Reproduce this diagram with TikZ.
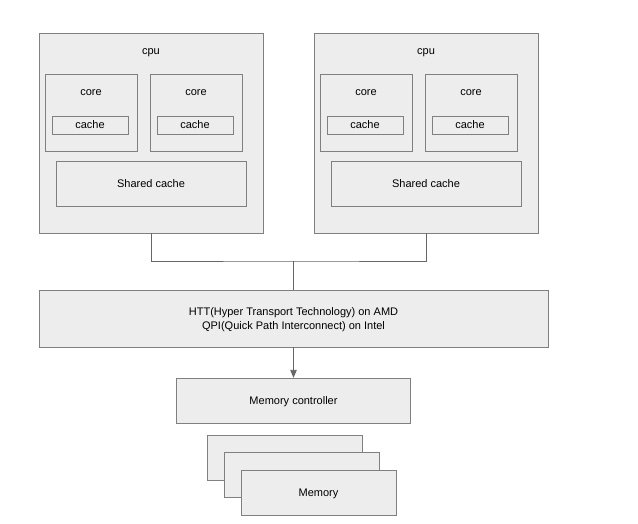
\documentclass[tikz,border=0pt]{standalone}
\usepackage{fontspec}
\setmainfont{Liberation Sans}
\usetikzlibrary{arrows}

\begin{document}
\begin{tikzpicture}
  [x=1pt,y=-1pt,font=\fontsize{11}{14}\selectfont,
   every node/.style={draw=black!50,fill=black!7,rectangle,inner sep=0pt,text depth=0pt}]

  \tikzstyle{plain} = [draw=none,fill=none]
  \tikzstyle{cpubox} = [minimum width=224pt,minimum height=200pt]
  \tikzstyle{corebox} = [minimum width=92pt,minimum height=77pt]
  \tikzstyle{cachebox} = [minimum width=76pt,minimum height=18pt]
  \tikzstyle{sharedbox} = [minimum width=190pt,minimum height=45pt]
  \tikzstyle{membox} = [minimum width=155pt,minimum height=45pt]

  \useasboundingbox (0,0) rectangle (638,523);

  % first cpu
  \node[cpubox] (cpu1) at (151,133) {};
  \node[plain] (cpu1 label) at (151,51.5) {cpu};
  \node[corebox] (core1) at (91,112.5) {};
  \node[plain] (core1 label) at (91,92.5) {core};
  \node[cachebox] (cache1) at (90,125) {cache};
  \node[corebox] (core2) at (196,112.5) {};
  \node[plain] (core2 label) at (196,92.5) {core};
  \node[cachebox] (cache2) at (195,125) {cache};
  \node[sharedbox] (shared1) at (151,183.5) {Shared cache};

  % second cpu
  \node[cpubox] (cpu2) at (426,133) {};
  \node[plain] (cpu2 label) at (426,51.5) {cpu};
  \node[corebox] (core3) at (366,112.5) {};
  \node[plain] (core3 label) at (366,92.5) {core};
  \node[cachebox] (cache3) at (365,125) {cache};
  \node[corebox] (core4) at (471,112.5) {};
  \node[plain] (core4 label) at (471,92.5) {core};
  \node[cachebox] (cache4) at (470,125) {cache};
  \node[sharedbox] (shared2) at (426,183.5) {Shared cache};

  \node[minimum width=509pt,minimum height=57pt,align=center] (htt) at (293.5,318.5)
        {HTT(Hyper Transport Technology) on AMD\\QPI(Quick Path Interconnect) on Intel};
  \node[minimum width=234pt,minimum height=45pt] (mc) at (293.5,400.5) {Memory controller};

  \node[membox] (mem1) at (284.5,457.5) {};
  \node[membox] (mem2) at (301.5,474.5) {};
  \node[membox] (mem3) at (318.5,492.5) {Memory};

  \coordinate (join) at (293.5,261);

  \path[draw=black!60, line width=0.8pt]
        (cpu1.south) |- (join) -| (cpu2.south)
        (join) -- (htt.north);
  \draw[->, >=triangle 45, draw=black!60, fill=black!60, line width=0.8pt]
        (htt.south) -- (mc.north);
\end{tikzpicture}
\end{document}
